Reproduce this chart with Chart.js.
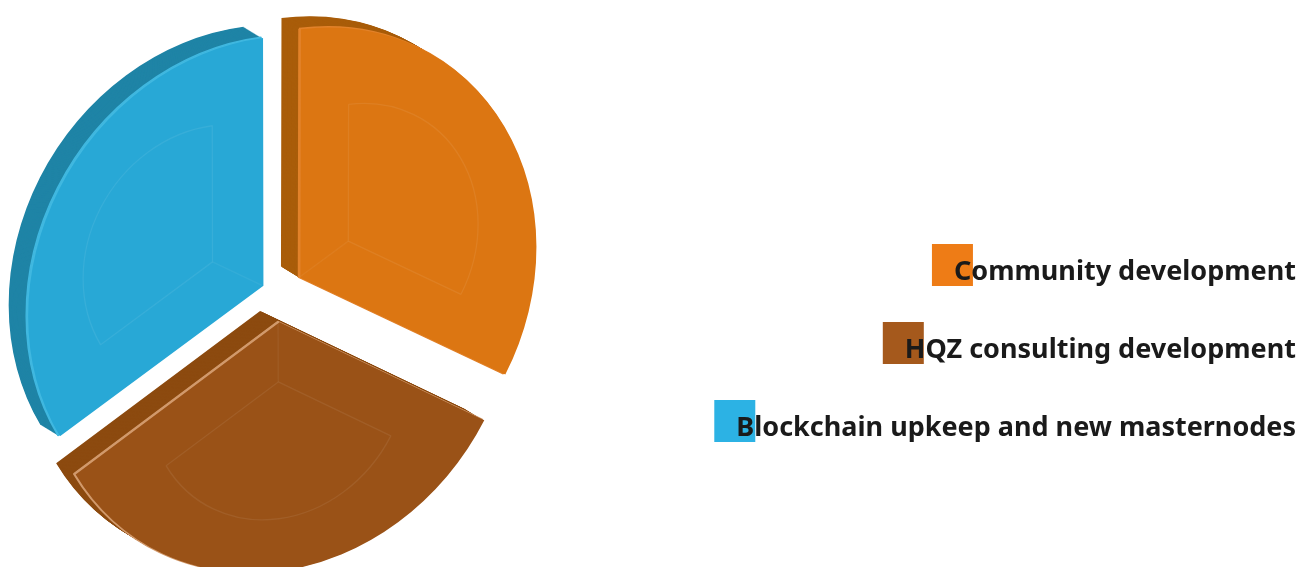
<!DOCTYPE html>
<html>
<head>
<meta charset="utf-8">
<style>
  html, body { margin: 0; padding: 0; background: #fff; }
  #wrap { width: 1301px; height: 567px; }
</style>
<script src="https://cdn.jsdelivr.net/npm/chart.js@4"></script>
</head>
<body>
<div id="wrap"><canvas id="pie" width="1301" height="567"></canvas></div>
<script>
const categories = ['Community development', 'HQZ consulting development', 'Blockchain upkeep and new masternodes'];
const shares = [33.3, 33.3, 33.4];

const faceColors = ['#dc7612', '#9a5217', '#28a8d6'];
const sideColors = ['#a95d0a', '#8c4a0f', '#1f84a6'];
const edgeColors = ['#e2822a', '#d29a6c', '#40b8e0'];
const keyColors = ['#ee7c16', '#a5591c', '#2cb2e4'];
// Chart.js divides arc offsets by 4 when it draws
const explode = [102, 116, 78];

const tilt = { a: 0.95, b: -0.123 };
const depth = { x: -18, y: -11, steps: 22 };
const bevelInset = 60;
const bevelScale = 0.55;

// draw an arc element with some options swapped, then put them back
function drawWith(arc, ctx, overrides) {
  const saved = arc.options;
  arc.options = Object.assign({}, saved, overrides);
  arc.draw(ctx);
  arc.options = saved;
}

// slices get a tilted face, a dark extruded side and a faint bevel
const extrudedPie = {
  id: 'extrudedPie',
  beforeDatasetDraw(chart) {
    const ctx = chart.ctx;
    const arcs = chart.getDatasetMeta(0).data;

    const tilted = (arc, dx, dy) => {
      ctx.translate(arc.x + dx, arc.y + dy);
      ctx.transform(tilt.a, tilt.b, 0, 1, 0, 0);
      ctx.translate(-arc.x, -arc.y);
    };

    arcs.forEach((arc, i) => {
      for (let k = depth.steps; k >= 1; k--) {
        ctx.save();
        tilted(arc, depth.x * k / depth.steps, depth.y * k / depth.steps);
        drawWith(arc, ctx, { backgroundColor: sideColors[i], borderWidth: 0 });
        ctx.restore();
      }

      // highlight stays only on the upper left edges once the face covers it
      ctx.save();
      tilted(arc, -0.5, -0.5);
      drawWith(arc, ctx, { backgroundColor: edgeColors[i], borderColor: edgeColors[i], borderWidth: 1.5 });
      ctx.restore();
      ctx.save();
      tilted(arc, 1.5, 0.3);
      drawWith(arc, ctx, { backgroundColor: faceColors[i], borderWidth: 0 });
      ctx.restore();

      // inner bevel wedge
      const mid = (arc.startAngle + arc.endAngle) / 2;
      const off = explode[i] / 4;
      const apexX = arc.x + Math.cos(mid) * off;
      const apexY = arc.y + Math.sin(mid) * off;
      const innerX = apexX + Math.cos(mid) * bevelInset;
      const innerY = apexY + Math.sin(mid) * bevelInset;
      ctx.save();
      tilted(arc, 0, 0);
      ctx.strokeStyle = 'rgba(255,255,255,0.05)';
      ctx.lineWidth = 1.5;
      ctx.beginPath();
      ctx.moveTo(apexX, apexY);
      ctx.lineTo(innerX, innerY);
      ctx.stroke();
      ctx.translate(innerX, innerY);
      ctx.scale(bevelScale, bevelScale);
      ctx.translate(-apexX, -apexY);
      drawWith(arc, ctx, { backgroundColor: 'rgba(0,0,0,0)', borderColor: 'rgba(255,255,255,0.07)', borderWidth: 2.5 });
      ctx.restore();
    });
    return false;
  }
};

// right aligned key, each swatch sits under the first letter of its label
const sideKey = {
  id: 'sideKey',
  afterDraw(chart) {
    const ctx = chart.ctx;
    const rightEdge = 1296;
    const baselines = [280, 358, 436];
    ctx.save();
    ctx.font = '700 27px "Noto Sans", sans-serif';
    ctx.textAlign = 'left';
    ctx.textBaseline = 'alphabetic';
    chart.data.labels.forEach((label, i) => {
      const x = rightEdge - ctx.measureText(label).width;
      ctx.fillStyle = keyColors[i];
      ctx.fillRect(x - 22, baselines[i] - 36, 41, 42);
      ctx.fillStyle = '#1a1a1a';
      ctx.fillText(label, x, baselines[i]);
    });
    ctx.restore();
  }
};

new Chart(document.getElementById('pie'), {
  type: 'pie',
  data: {
    labels: categories,
    datasets: [{
      data: shares,
      backgroundColor: faceColors,
      borderWidth: 0,
      offset: explode
    }]
  },
  options: {
    responsive: false,
    animation: false,
    radius: 245,
    layout: { padding: { left: 0, top: 19, right: 745, bottom: 0 } },
    plugins: {
      legend: { display: false },
      tooltip: { enabled: false }
    }
  },
  plugins: [extrudedPie, sideKey]
});
</script>
</body>
</html>
